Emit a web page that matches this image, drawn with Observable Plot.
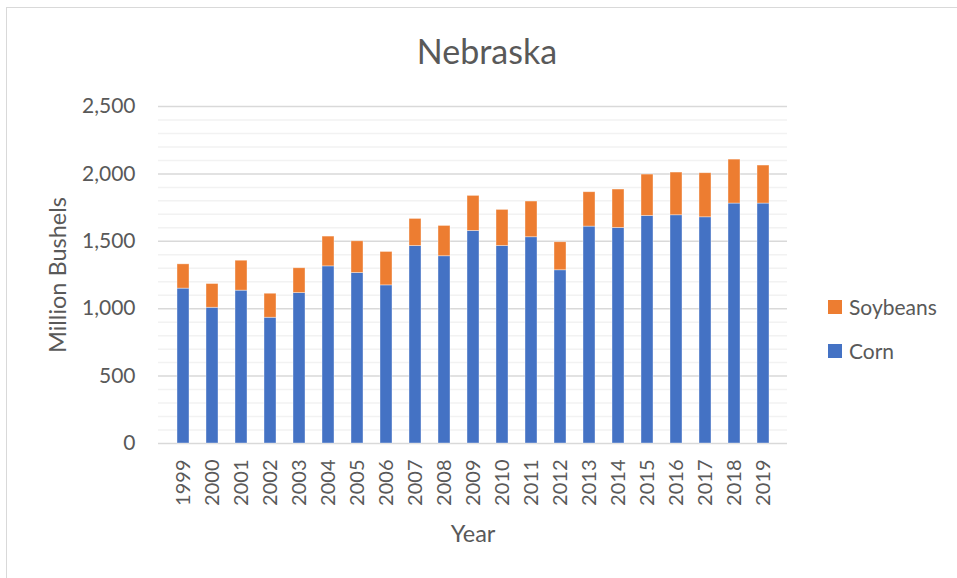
<!DOCTYPE html>
<html>
<head>
<meta charset="utf-8">
<script src="https://cdn.jsdelivr.net/npm/d3@7"></script>
<script src="https://cdn.jsdelivr.net/npm/@observablehq/plot@0.6"></script>
<style>
  html, body { margin: 0; padding: 0; background: #fff; }
  body { width: 957px; height: 578px; position: relative; overflow: hidden; font-family: Lato, "Open Sans", sans-serif; color: #595959; }
  #frame { position: absolute; left: 6px; top: 7px; width: 1000px; height: 700px; border: 1.5px solid #d9d9d9; box-sizing: border-box; }
  #chart { position: absolute; left: 0; top: 0; }
  .lbl { position: absolute; white-space: nowrap; color: #595959; }
  #title { left: 0; width: 974px; top: 30px; text-align: center; font-size: 34px; line-height: 42px; }
  #ylabel { left: 57px; top: 275px; font-size: 23.5px; transform: translate(-50%, -50%) rotate(-90deg); }
  #xlabel { left: 473px; top: 533px; font-size: 23.5px; transform: translate(-50%, -50%); }
  .leg { position: absolute; left: 828px; font-size: 21px; display: flex; align-items: center; }
  .sw { width: 14px; height: 14px; margin-right: 7px; }
</style>
</head>
<body>
<div id="frame"></div>
<div id="chart"></div>
<div id="title" class="lbl">Nebraska</div>
<div id="ylabel" class="lbl">Million Bushels</div>
<div id="xlabel" class="lbl">Year</div>
<div class="leg" style="top:294px"><div class="sw" style="background:#ed7d31"></div>Soybeans</div>
<div class="leg" style="top:338px"><div class="sw" style="background:#4472c4"></div>Corn</div>
<script>
const years = ["1999","2000","2001","2002","2003","2004","2005","2006","2007","2008","2009","2010","2011","2012","2013","2014","2015","2016","2017","2018","2019"];
const corn = [1149,1007,1134,933,1116,1314,1265,1173,1465,1389,1577,1465,1530,1285,1609,1599,1688,1693,1678,1780,1780];
const soybeans = [180,176,222,178,184,221,235,248,201,225,260,268,265,208,255,285,307,317,327,326,282];
const series = ["Corn","Soybeans"];
const colors = ["#4472c4","#ed7d31"];
const yTicks = [0,500,1000,1500,2000,2500];
const yMinor = d3.range(0, 2501, 100).filter(v => v % 500 !== 0);

const data = [];
years.forEach((y, i) => {
  data.push({year: y, series: "Corn", value: corn[i]});
  data.push({year: y, series: "Soybeans", value: soybeans[i]});
});

const chart = Plot.plot({
  width: 957,
  height: 578,
  marginLeft: 158,
  marginRight: 170,
  marginTop: 106,
  marginBottom: 135,
  style: {fontFamily: "Lato, 'Open Sans', sans-serif", fontSize: "20px", color: "#595959", background: "transparent"},
  x: {domain: years, padding: 0.6, label: null},
  y: {domain: [0, 2500], label: null},
  color: {domain: series, range: colors},
  marks: [
    Plot.ruleY(yMinor, {stroke: "#f2f2f2", strokeWidth: 1.5}),
    Plot.ruleY(yTicks, {stroke: "#d9d9d9", strokeWidth: 1.5}),
    Plot.barY(data, Plot.stackY({x: "year", y: "value", fill: "series", order: series, stroke: "#ffffff", strokeOpacity: 0.5, strokeWidth: 0.75})),
    Plot.axisY({ticks: yTicks, tickFormat: d3.format(","), tickSize: 0, tickPadding: 23, label: null, fill: "#595959", fontSize: 21}),
    Plot.axisX({tickRotate: -90, tickSize: 0, tickPadding: 16, label: null, fill: "#595959"})
  ]
});
document.getElementById("chart").appendChild(chart);
</script>
</body>
</html>
